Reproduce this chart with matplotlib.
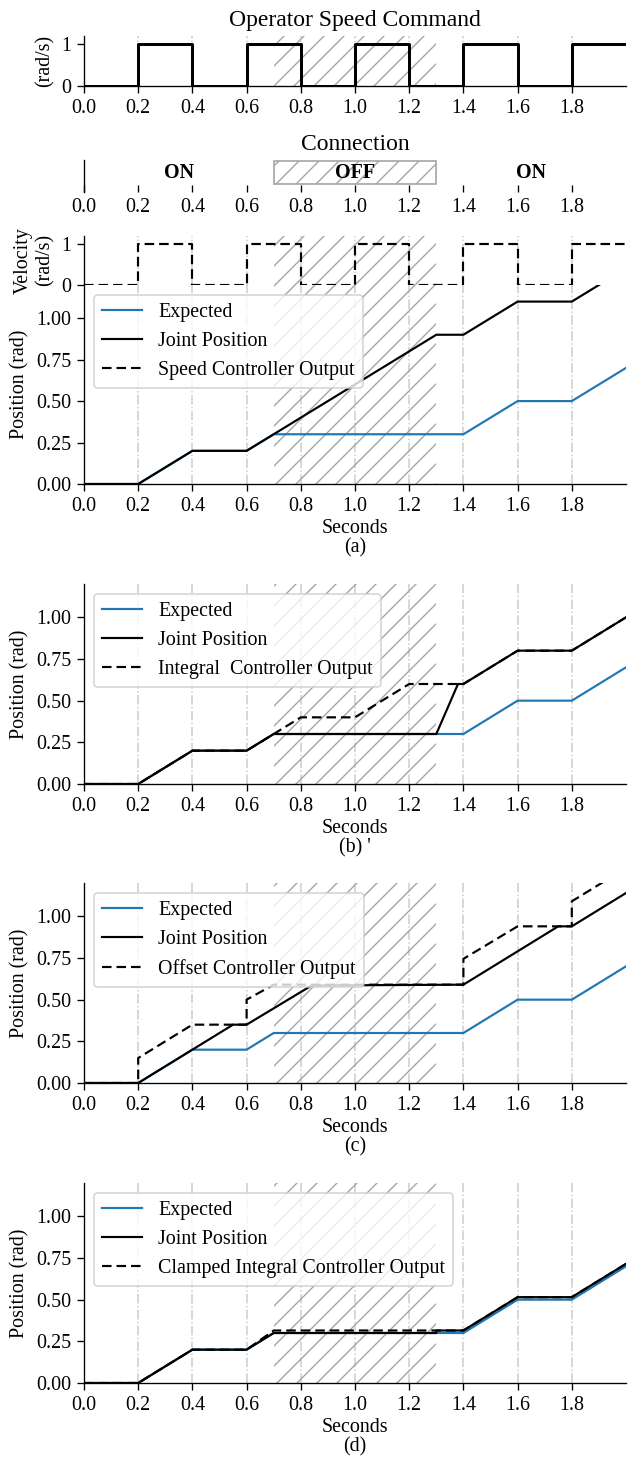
import matplotlib
matplotlib.use("Agg")
import matplotlib.pyplot as plt
from matplotlib.patches import Rectangle
from matplotlib.ticker import FormatStrFormatter

# ---------------- data ----------------
x_ticks = [0.0, 0.2, 0.4, 0.6, 0.8, 1.0, 1.2, 1.4, 1.6, 1.8]
phase_lines = [0.2, 0.4, 0.6, 0.8, 1.0, 1.2, 1.4, 1.6, 1.8]
pos_ticks = [0.0, 0.25, 0.5, 0.75, 1.0]

step_t = [0.0, 0.2, 0.4, 0.6, 0.8, 1.0, 1.2, 1.4, 1.6, 1.8, 2.0]
cmd_v = [0, 1, 0, 1, 0, 1, 0, 1, 0, 1, 1]
speed_out_v = [0, 1, 0, 1, 0, 1, 0, 1, 0, 1, 1]

off_start, off_end = 0.7, 1.3
conn_labels = ["ON", "OFF", "ON"]
conn_pos = [0.35, 1.0, 1.65]

exp_t = [0.0, 0.2, 0.4, 0.6, 0.7, 1.4, 1.6, 1.8, 2.0]
exp_v = [0.0, 0.0, 0.2, 0.2, 0.3, 0.3, 0.5, 0.5, 0.7]

a_joint_t = [0.0, 0.2, 0.4, 0.6, 1.3, 1.4, 1.6, 1.8, 2.0]
a_joint_v = [0.0, 0.0, 0.2, 0.2, 0.9, 0.9, 1.1, 1.1, 1.3]

b_joint_t = [0.0, 0.2, 0.4, 0.6, 0.7, 1.3, 1.38, 1.4, 1.6, 1.8, 2.0]
b_joint_v = [0.0, 0.0, 0.2, 0.2, 0.3, 0.3, 0.6, 0.6, 0.8, 0.8, 1.0]
b_ctrl_t = [0.0, 0.2, 0.4, 0.6, 0.7, 0.8, 1.0, 1.2, 1.4, 1.6, 1.8, 2.0]
b_ctrl_v = [0.0, 0.0, 0.2, 0.2, 0.3, 0.4, 0.4, 0.6, 0.6, 0.8, 0.8, 1.0]

c_joint_t = [0.0, 0.2, 0.55, 0.6, 0.84, 1.4, 1.75, 1.8, 2.0]
c_joint_v = [0.0, 0.0, 0.35, 0.35, 0.585, 0.59, 0.94, 0.94, 1.14]
c_ctrl_t = [0.0, 0.2, 0.2, 0.4, 0.6, 0.6, 0.7, 1.4, 1.4, 1.6, 1.8, 1.8, 2.0]
c_ctrl_v = [0.0, 0.0, 0.15, 0.35, 0.35, 0.5, 0.59, 0.59, 0.745, 0.94, 0.94, 1.09, 1.29]

d_joint_t = [0.0, 0.2, 0.4, 0.6, 0.7, 1.3, 1.3, 1.4, 1.6, 1.8, 2.0]
d_joint_v = [0.0, 0.0, 0.2, 0.2, 0.3, 0.3, 0.315, 0.315, 0.515, 0.515, 0.715]
d_ctrl_t = [0.0, 0.2, 0.4, 0.6, 0.7, 1.4, 1.6, 1.8, 2.0]
d_ctrl_v = [0.0, 0.0, 0.2, 0.2, 0.315, 0.315, 0.515, 0.515, 0.715]

ctrl_names = ["Integral  Controller Output", "Offset Controller Output",
              "Clamped Integral Controller Output"]
captions = ["(a)", "(b) '", "(c)", "(d)"]

# ---------------- style ----------------
DPI = 120
W, H = 638, 1457
plt.rcParams["font.family"] = ["Liberation Serif", "DejaVu Serif"]
FS = 12.0
FS_T = 14.2
LW = 1.3
BLUE = "#1f77b4"
HATCH_C = "#a6a6a6"
VL_C = "#cccccc"
DASH = (0, (4.4, 2.3))

plt.rcParams.update({
    "font.size": FS,
    "axes.linewidth": 0.8,
    "xtick.major.size": 4.2,
    "ytick.major.size": 4.2,
    "xtick.major.width": 0.8,
    "ytick.major.width": 0.8,
    "hatch.linewidth": 0.85,
})

fig = plt.figure(figsize=(W / DPI, H / DPI), dpi=DPI)

L = 84 / W
AW = (626 - 84) / W


def mkax(top_px, bot_px):
    return fig.add_axes([L, 1 - bot_px / H, AW, (bot_px - top_px) / H])


def decorate(ax, lines=True, hatch=True):
    ax.set_xlim(0, 2.0)
    for s in ["top", "right"]:
        ax.spines[s].set_visible(False)
    if lines:
        for t in phase_lines:
            ax.axvline(t, color=VL_C, ls="-.", lw=0.9, zorder=0.5)
    if hatch:
        ax.axvspan(off_start, off_end, facecolor="none", edgecolor=HATCH_C,
                   hatch="//", lw=0, zorder=0.6)
    ax.set_xticks(x_ticks)
    ax.xaxis.set_major_formatter(FormatStrFormatter("%.1f"))
    ax.tick_params(labelsize=FS)


# ---- Operator speed command ----
ax1 = mkax(35.6, 86)
decorate(ax1)
ax1.plot(step_t, cmd_v, color="black", lw=1.8, drawstyle="steps-post", zorder=3)
ax1.set_ylim(0, 1.2)
ax1.set_yticks([0, 1])
ax1.set_ylabel("(rad/s)", fontsize=FS)
ax1.set_title("Operator Speed Command", fontsize=FS_T)

# ---- Connection ----
ax2 = mkax(160, 192)
ax2.set_xlim(0, 2.0)
ax2.set_ylim(0, 1)
for s in ["top", "right", "bottom"]:
    ax2.spines[s].set_visible(False)
ax2.set_yticks([])
ax2.set_xticks(x_ticks)
ax2.xaxis.set_major_formatter(FormatStrFormatter("%.1f"))
ax2.tick_params(axis="x", direction="in", labelsize=FS)
ax2.add_patch(Rectangle((off_start, 0.25), off_end - off_start, 0.72,
                        facecolor="none", edgecolor=HATCH_C, hatch="//", lw=1.0))
for lab, p in zip(conn_labels, conn_pos):
    ax2.text(p, 0.6, lab, ha="center", va="center", fontsize=FS, fontweight="bold")
ax2.set_title("Connection", fontsize=FS_T)

# ---- (a) velocity + position ----
axv = mkax(235.6, 285)
decorate(axv)
h_speed, = axv.plot(step_t, speed_out_v, color="black", lw=LW, ls=DASH,
                    drawstyle="steps-post", zorder=3, clip_on=False,
                    label="Speed Controller Output")
axv.set_ylim(0, 1.2)
axv.set_yticks([0, 1])
axv.spines["bottom"].set_visible(False)
axv.tick_params(axis="x", bottom=False, labelbottom=False)
axv.set_ylabel("Velocity\n(rad/s)", fontsize=FS, linespacing=1.15)

pos_axes = [mkax(285, 484), mkax(584, 784), mkax(883, 1083), mkax(1183, 1383)]
joints = [(a_joint_t, a_joint_v), (b_joint_t, b_joint_v),
          (c_joint_t, c_joint_v), (d_joint_t, d_joint_v)]
ctrls = [None, (b_ctrl_t, b_ctrl_v), (c_ctrl_t, c_ctrl_v), (d_ctrl_t, d_ctrl_v)]

for i, ax in enumerate(pos_axes):
    decorate(ax)
    h_exp, = ax.plot(exp_t, exp_v, color=BLUE, lw=LW, zorder=3, label="Expected")
    h_j, = ax.plot(joints[i][0], joints[i][1], color="black", lw=LW, zorder=4,
                   label="Joint Position")
    if ctrls[i] is None:
        h_c = h_speed
    else:
        h_c, = ax.plot(ctrls[i][0], ctrls[i][1], color="black", lw=LW, ls=DASH,
                       zorder=5, label=ctrl_names[i - 1])
    ax.set_ylim(0, 1.2)
    ax.set_yticks(pos_ticks)
    ax.yaxis.set_major_formatter(FormatStrFormatter("%.2f"))
    ax.set_ylabel("Position (rad)", fontsize=FS)
    ax.set_xlabel("Seconds\n" + captions[i], fontsize=FS, linespacing=1.0,
                  labelpad=2.0)
    ax.legend(handles=[h_exp, h_j, h_c], loc="upper left", fontsize=FS)

fig.savefig("out.png", dpi=DPI)
